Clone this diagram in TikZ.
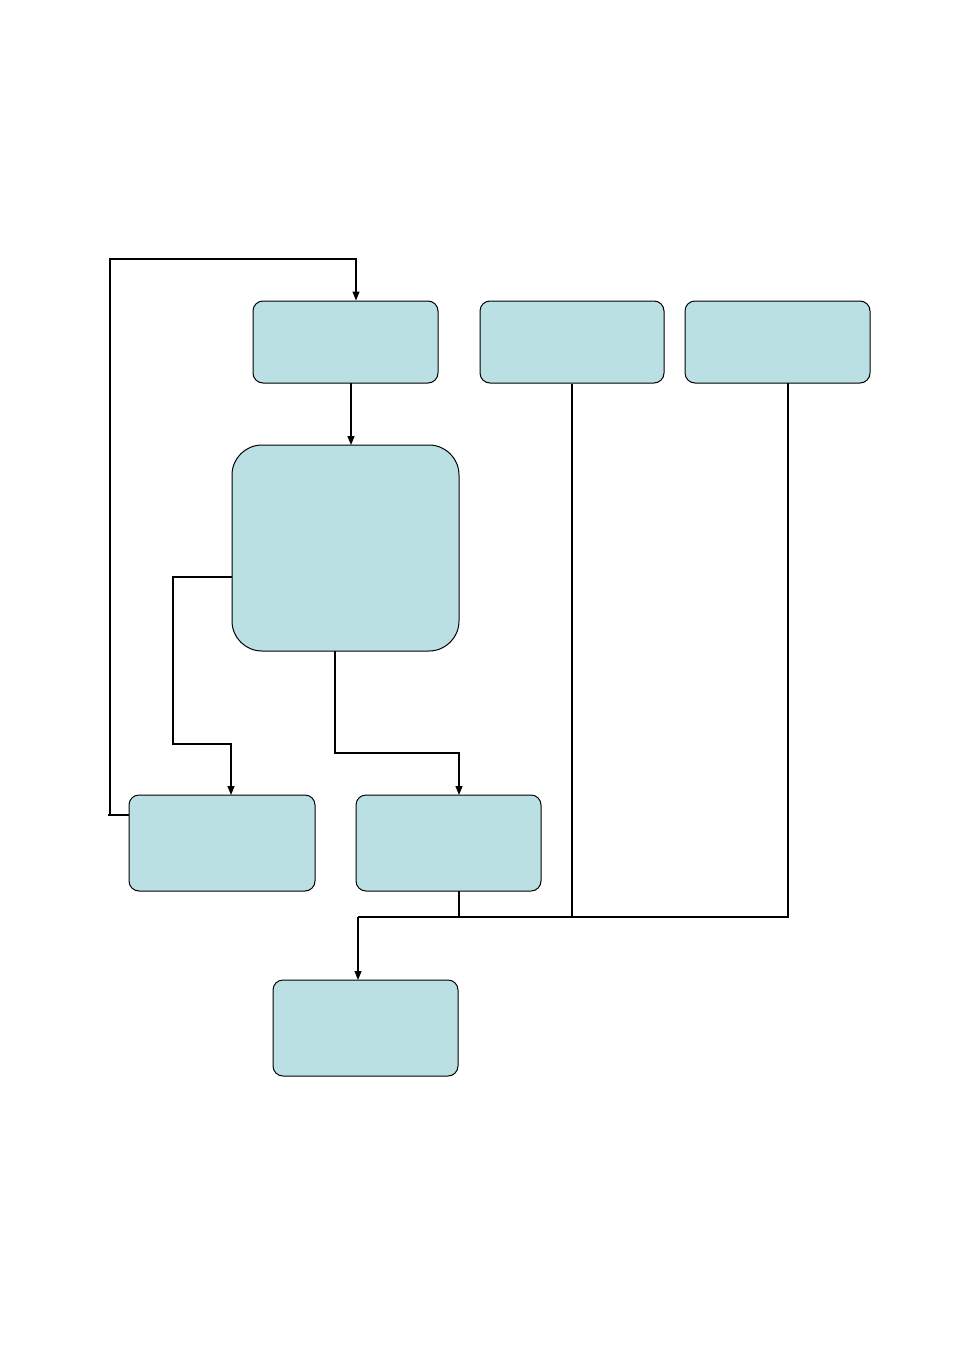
\documentclass[tikz,border=0pt]{standalone}
\usetikzlibrary{arrows.meta}
\definecolor{boxfill}{HTML}{BAE0E4}
\tikzset{
  bx/.style={draw=black,fill=boxfill,line width=1pt,rounded corners=10pt,inner sep=0pt},
  conn/.style={draw=black,line width=1.2pt},
  arr/.style={conn,-{Triangle[length=9pt,width=7pt]}}
}
\begin{document}
\begin{tikzpicture}[x=1pt,y=-1pt]
\useasboundingbox (0,0) rectangle (954,1354);
\node[bx,minimum width=185pt,minimum height=82pt] (A) at (345.5,342) {};
\node[bx,minimum width=184pt,minimum height=82pt] (B) at (572,342) {};
\node[bx,minimum width=185pt,minimum height=82pt] (C) at (777.5,342) {};
\node[bx,rounded corners=30pt,minimum width=227pt,minimum height=206pt] (D) at (345.5,548) {};
\node[bx,minimum width=186pt,minimum height=96pt] (E) at (222,843) {};
\node[bx,minimum width=185pt,minimum height=96pt] (F) at (448.5,843) {};
\node[bx,minimum width=185pt,minimum height=96pt] (G) at (365.5,1028) {};
\coordinate (L1) at (110,815);
\coordinate (L2) at (110,259);
\coordinate (L3) at (356,259);
\coordinate (J) at (358,917);
\draw[conn] (E.west |- 0,815) -- (108,815);
\draw[arr] (L1) -- (L2) -- (L3) -- (L3 |- A.north);
\draw[arr] (351,383) -- (351,445);
\draw[arr] (D.west |- 0,577) -- (173,577) -- (173,744) -- (231,744) -- (231,795);
\draw[arr] (335,651) -- (335,753) -- (459,753) -- (459,795);
\draw[conn] (459,891) -- (459,917);
\draw[conn] (B.south) -- (B.south |- J);
\draw[conn] (788,383) -- (788,917) -- (J);
\draw[arr] (J) -- (358,980);
\end{tikzpicture}
\end{document}
